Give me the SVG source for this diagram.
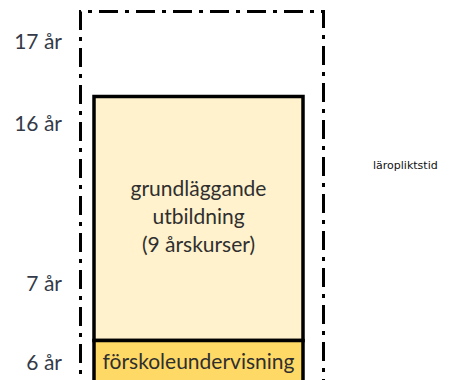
<svg xmlns="http://www.w3.org/2000/svg" width="475" height="380" viewBox="0 0 475 380">
<style>
.age{font-family:Lato,"Liberation Sans",sans-serif;font-size:21px;fill:#343a48;text-anchor:end}
.box{font-family:Lato,"Liberation Sans",sans-serif;font-size:21px;fill:#2f2f2f;text-anchor:middle}
.side{font-family:"DejaVu Sans","Liberation Sans",sans-serif;font-size:11px;fill:#111}
</style>
<rect width="475" height="380" fill="#fff"/>
<g id="laroplikt">
<path d="M80.5,400 V11.5 H323.5 V400" fill="none" stroke="#000" stroke-width="3" stroke-dasharray="19 7 4 7"/>
<text class="side" x="373" y="169">läropliktstid</text>
</g>
<g id="grundlaggande">
<rect x="94" y="96.5" width="209" height="244" fill="#FFF2CC" stroke="#000" stroke-width="3.5"/>
<text class="box" x="198.5" y="196">grundläggande</text>
<text class="box" x="198.5" y="224">utbildning</text>
<text class="box" x="198.5" y="252">(9 årskurser)</text>
</g>
<g id="forskola">
<rect x="94" y="340.5" width="209" height="60" fill="#FFD966" stroke="#000" stroke-width="3.5"/>
<text class="box" x="198.5" y="369">förskoleundervisning</text>
</g>
<g id="ages">
<text class="age" x="62" y="49">17 år</text>
<text class="age" x="62" y="131">16 år</text>
<text class="age" x="62" y="291">7 år</text>
<text class="age" x="62" y="370">6 år</text>
</g>
<g id="connectors"></g>
</svg>
